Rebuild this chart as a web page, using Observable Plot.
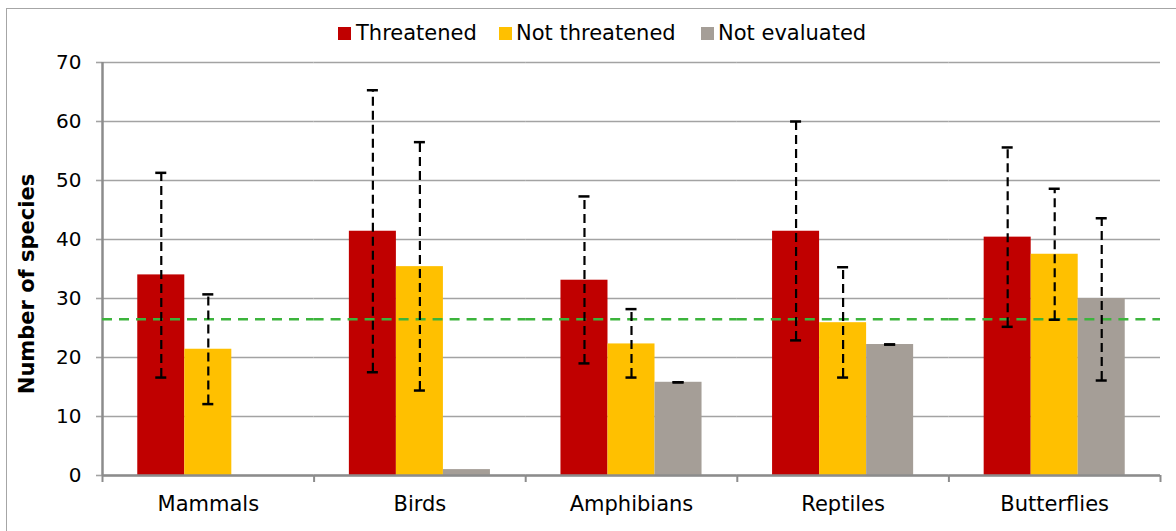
<!DOCTYPE html>
<html>
<head>
<meta charset="utf-8">
<script src="https://cdn.jsdelivr.net/npm/d3@7"></script>
<script src="https://cdn.jsdelivr.net/npm/@observablehq/plot@0.6"></script>
<style>
  html, body { margin: 0; padding: 0; background: #fff; overflow: hidden; }
  body { width: 1176px; height: 531px; position: relative; font-family: "DejaVu Sans", Verdana, sans-serif; color: #000; }
  #frame { position: absolute; left: 6px; top: 8px; width: 1200px; height: 600px; border: 1.5px solid #a6a6a6; box-sizing: border-box; }
  .sw { position: absolute; top: 27px; width: 12.5px; height: 12.5px; }
  .lt { position: absolute; top: 21px; font-size: 21px; line-height: 24px; white-space: nowrap; }
  #ylab { position: absolute; left: 27px; top: 284px; transform: translate(-50%, -50%) rotate(-90deg); font-size: 21px; font-weight: bold; white-space: nowrap; }
  #chart { position: absolute; left: 0; top: 50px; }
</style>
</head>
<body>
<div id="frame"></div>
<div id="legend"></div>
<div id="ylab">Number of species</div>
<div id="chart"></div>
<script>
const categories = ["Mammals", "Birds", "Amphibians", "Reptiles", "Butterflies"];
const series = ["Threatened", "Not threatened", "Not evaluated"];
const colors = ["#C00000", "#FFC000", "#A59E97"];

const threatened        = [34.0, 41.4, 33.1, 41.4, 40.4];
const threatenedLow     = [16.6, 17.5, 19.0, 22.9, 25.2];
const threatenedHigh    = [51.3, 65.3, 47.3, 60.0, 55.6];

const notThreatened     = [21.4, 35.4, 22.3, 25.9, 37.5];
const notThreatenedLow  = [12.1, 14.4, 16.6, 16.6, 26.4];
const notThreatenedHigh = [30.7, 56.5, 28.2, 35.3, 48.6];

const notEvaluated      = [null, 1.0, 15.8, 22.2, 30.0];
const notEvaluatedLow   = [null, null, 15.8, 22.2, 16.1];
const notEvaluatedHigh  = [null, null, 15.8, 22.2, 43.6];

const referenceLine = 26.5;
const yTicks = [0, 10, 20, 30, 40, 50, 60, 70];

// build tables
const values = [threatened, notThreatened, notEvaluated];
const lows = [threatenedLow, notThreatenedLow, notEvaluatedLow];
const highs = [threatenedHigh, notThreatenedHigh, notEvaluatedHigh];
const bars = [];
const errs = [];
categories.forEach((c, i) => {
  series.forEach((s, j) => {
    if (values[j][i] != null) bars.push({category: c, series: s, value: values[j][i]});
    if (lows[j][i] != null) errs.push({category: c, series: s, lo: lows[j][i], hi: highs[j][i]});
  });
});

// legend
const legend = document.getElementById("legend");
const legendPos = [[338, 356], [499, 516], [701, 718]];
series.forEach((s, j) => {
  const sw = document.createElement("div");
  sw.className = "sw"; sw.style.left = legendPos[j][0] + "px"; sw.style.background = colors[j];
  const t = document.createElement("div");
  t.className = "lt"; t.style.left = legendPos[j][1] + "px"; t.textContent = s;
  legend.appendChild(sw); legend.appendChild(t);
});

const W = 1176, H = 481, mL = 102, mR = 16, mT = 12, mB = 56;
const facetW = (W - mL - mR) / categories.length;
const padOuter = 0.75;
const step = facetW / (series.length + 2 * padOuter);
const edge = padOuter * step + step / 2; // from facet edge to first band center
const plotH = H - mT - mB;
const grid = "#a3a3a3";

const chart = Plot.plot({
  width: W, height: H,
  marginLeft: mL, marginRight: mR, marginTop: mT, marginBottom: mB,
  style: {fontFamily: "DejaVu Sans, Verdana, sans-serif", fontSize: "20px", color: "#000", background: "transparent"},
  fx: {domain: categories, padding: 0, round: false, axis: null},
  x: {domain: series, paddingInner: 0, paddingOuter: padOuter, round: false, axis: null},
  y: {domain: [0, 70], axis: null},
  color: {domain: series, range: colors},
  marks: [
    Plot.ruleY(yTicks, {stroke: grid, strokeWidth: 1.6}),
    Plot.axisY({ticks: yTicks, tickSize: 6, tickPadding: 15, stroke: grid, strokeWidth: 1.6, fill: "#000", fontSize: 20, label: null, tickFormat: d => d}),
    Plot.barY(bars, {fx: "category", x: "series", y: "value", fill: "series"}),
    Plot.ruleY([0], {stroke: "#8c8c8c", strokeWidth: 2.5}),
    Plot.ruleX([{category: categories[0], series: series[0]}], {fx: "category", x: "series", y1: 0, y2: 70, dx: -edge, stroke: "#8c8c8c", strokeWidth: 2.5}),
    Plot.ruleX(categories.map(c => ({category: c, series: series[0]})), {fx: "category", x: "series", dx: -edge, insetTop: plotH, insetBottom: -7, stroke: "#8c8c8c", strokeWidth: 2}),
    Plot.ruleX([{category: categories[categories.length - 1], series: series[series.length - 1]}], {fx: "category", x: "series", dx: edge, insetTop: plotH, insetBottom: -7, stroke: "#8c8c8c", strokeWidth: 2}),
    Plot.ruleY([referenceLine], {stroke: "#3cb43c", strokeWidth: 2.5, strokeDasharray: "10,7"}),
    Plot.ruleX(errs, {fx: "category", x: "series", y1: "lo", y2: "hi", stroke: "#000", strokeWidth: 2.2, strokeDasharray: "9,5"}),
    Plot.tickY(errs, {fx: "category", x: "series", y: "hi", insetLeft: 18, insetRight: 18, stroke: "#000", strokeWidth: 2.5}),
    Plot.tickY(errs, {fx: "category", x: "series", y: "lo", insetLeft: 18, insetRight: 18, stroke: "#000", strokeWidth: 2.5}),
    Plot.axisFx({anchor: "bottom", tickSize: 0, tickPadding: 21, fontSize: 21, fill: "#000", label: null})
  ]
});
document.getElementById("chart").appendChild(chart);
</script>
</body>
</html>
